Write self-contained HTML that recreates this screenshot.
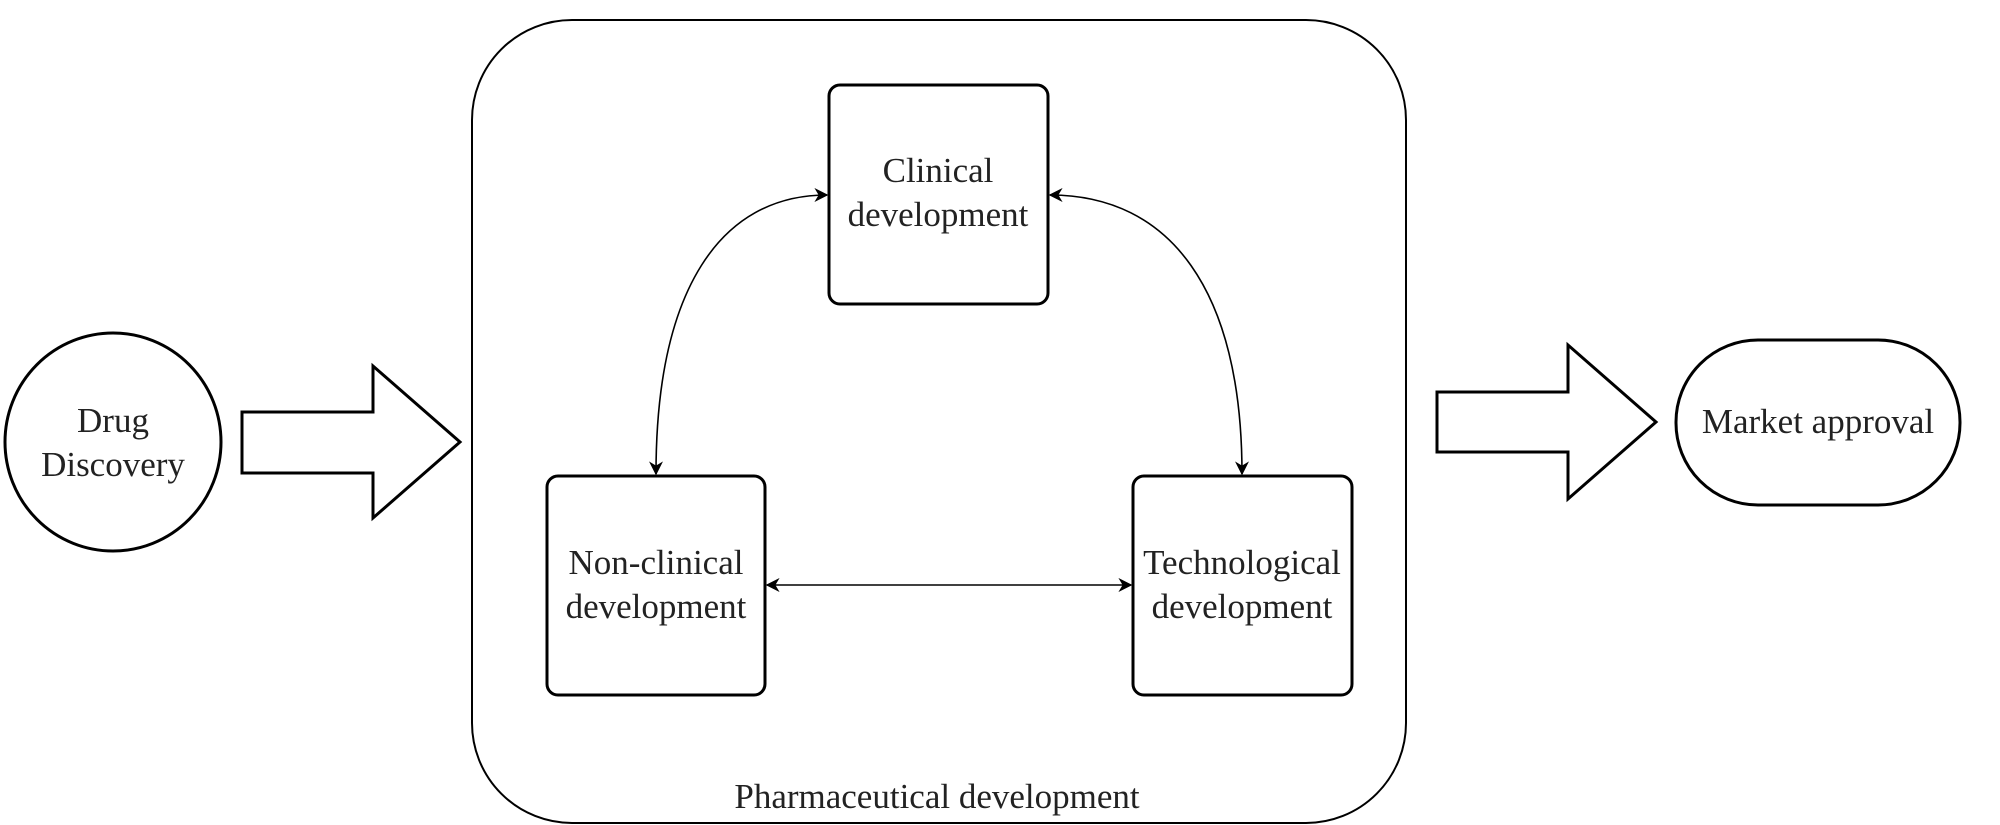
<!DOCTYPE html>
<html><head><meta charset="utf-8"><style>html,body{margin:0;padding:0;background:#fff}svg{display:block}</style></head>
<body>
<svg width="2000" height="825" viewBox="0 0 2000 825" xmlns="http://www.w3.org/2000/svg" font-family="'Liberation Serif', serif" font-size="35" fill="#222">
<defs>
<marker id="a" viewBox="0 0 10 10" refX="9" refY="5" markerWidth="14" markerHeight="14" markerUnits="userSpaceOnUse" orient="auto-start-reverse">
<path d="M0,0 L10,5 L0,10 L3,5 Z" fill="#000"/>
</marker>
</defs>
<rect x="472" y="20" width="934" height="803" rx="100" ry="100" fill="none" stroke="#000" stroke-width="2"/>
<ellipse cx="113" cy="442" rx="108" ry="109" fill="none" stroke="#000" stroke-width="3"/>
<path d="M242,412 H373 V366 L460,442 L373,518 V473 H242 Z" fill="none" stroke="#000" stroke-width="3"/>
<path d="M1437,392 H1568 V345 L1656,422 L1568,499 V452 H1437 Z" fill="none" stroke="#000" stroke-width="3"/>
<rect x="1676" y="340" width="284" height="165" rx="82" ry="82" fill="none" stroke="#000" stroke-width="3"/>
<rect x="829" y="85" width="219" height="219" rx="11" fill="none" stroke="#000" stroke-width="3"/>
<rect x="547" y="476" width="218" height="219" rx="11" fill="none" stroke="#000" stroke-width="3"/>
<rect x="1133" y="476" width="219" height="219" rx="11" fill="none" stroke="#000" stroke-width="3"/>
<path d="M767,585 H1131" fill="none" stroke="#000" stroke-width="1.6" marker-start="url(#a)" marker-end="url(#a)"/>
<path d="M656,474 C656,290 720,195 827,195" fill="none" stroke="#000" stroke-width="1.6" marker-start="url(#a)" marker-end="url(#a)"/>
<path d="M1242,474 C1242,290 1170,195 1050,195" fill="none" stroke="#000" stroke-width="1.6" marker-start="url(#a)" marker-end="url(#a)"/>
<g text-anchor="middle">
<text x="113" y="432">Drug</text>
<text x="113" y="476">Discovery</text>
<text x="938" y="182">Clinical</text>
<text x="938" y="226">development</text>
<text x="656" y="574">Non-clinical</text>
<text x="656" y="618">development</text>
<text x="1242" y="574">Technological</text>
<text x="1242" y="618">development</text>
<text x="1818" y="433">Market approval</text>
<text x="937" y="808">Pharmaceutical development</text>
</g>
</svg>
</body></html>
